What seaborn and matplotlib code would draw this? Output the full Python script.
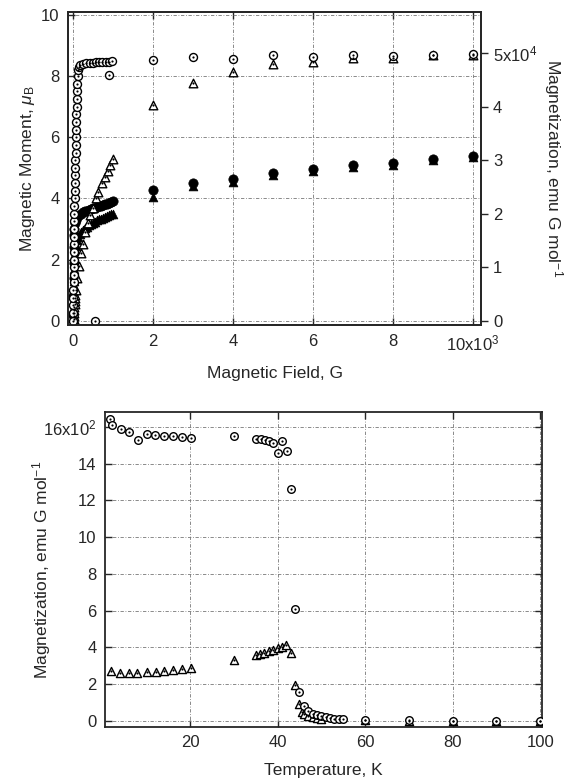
import numpy as np
import pandas as pd
import matplotlib
matplotlib.use('Agg')
import matplotlib.pyplot as plt
import seaborn as sns

# ---- data: field dependence (field in G, moment in uB) ----
circ_open_H = [0, 2, 4, 6, 8, 10, 12, 14, 16, 18, 20, 22, 25, 28, 30, 33, 36, 40, 44, 48,
               52, 56, 60, 64, 68, 72, 76, 80, 85, 90, 95, 100, 110, 120, 140, 175,
               250, 330, 410, 490, 570, 650, 730, 810, 890, 970, 900, 550,
               2000, 3000, 4000, 5000, 6000, 7000, 8000, 9000, 10000]
circ_open_M = [0.0, 0.25, 0.5, 0.75, 1.0, 1.25, 1.5, 1.75, 2.0, 2.25, 2.5, 2.75, 3.0, 3.25, 3.5,
               3.75, 4.0, 4.25, 4.5, 4.75, 5.0, 5.25, 5.5, 5.75, 6.0, 6.25, 6.5, 6.75, 7.0,
               7.25, 7.5, 7.75, 8.0, 8.2, 8.3, 8.38, 8.4, 8.42, 8.43, 8.44, 8.45, 8.46,
               8.46, 8.47, 8.47, 8.48, 8.05, 0.0,
               8.52, 8.62, 8.57, 8.7, 8.63, 8.68, 8.65, 8.68, 8.72]

tri_open_H = [10, 15, 20, 25, 30, 35, 40, 45, 50, 60, 100, 150, 200, 250, 300, 380, 420, 500, 580,
              620, 720, 800, 870, 930, 990,
              2000, 3000, 4000, 5000, 6000, 7000, 8000, 9000, 10000]
tri_open_M = [0.05, 0.15, 0.25, 0.35, 0.45, 0.55, 0.65, 0.75, 0.85, 1.0, 1.4, 1.8, 2.2, 2.5, 2.9,
              3.2, 3.45, 3.7, 4.0, 4.2, 4.5, 4.7, 4.9, 5.1, 5.3,
              7.05, 7.78, 8.12, 8.39, 8.47, 8.6, 8.58, 8.69, 8.7]

circ_fill_H = [0, 5, 10, 15, 20, 25, 30, 40, 60, 80, 100, 150, 200, 250, 300, 350, 400, 450, 500,
               550, 600, 650, 700, 750, 800, 850, 900, 950, 1000,
               2000, 3000, 4000, 5000, 6000, 7000, 8000, 9000, 10000]
circ_fill_M = [0.2, 0.8, 1.4, 1.9, 2.4, 2.8, 3.0, 3.2, 3.3, 3.35, 3.4, 3.45, 3.5, 3.55, 3.58, 3.6,
               3.63, 3.66, 3.68, 3.7, 3.72, 3.74, 3.76, 3.78, 3.8, 3.82, 3.85, 3.87, 3.9,
               4.26, 4.5, 4.62, 4.83, 4.97, 5.08, 5.16, 5.28, 5.38]

tri_fill_H = [0, 10, 20, 30, 40, 50, 70, 100, 130, 160, 200, 250, 300, 350, 400, 450, 500, 550,
              600, 650, 700, 750, 800, 850, 900, 950, 1000,
              2000, 3000, 4000, 5000, 6000, 7000, 8000, 9000, 10000]
tri_fill_M = [0.3, 0.8, 1.3, 1.7, 2.0, 2.2, 2.45, 2.65, 2.75, 2.85, 2.9, 2.97, 3.03, 3.08, 3.12,
              3.16, 3.2, 3.24, 3.28, 3.31, 3.34, 3.37, 3.4, 3.43, 3.46, 3.48, 3.5,
              4.04, 4.4, 4.55, 4.77, 4.88, 5.03, 5.1, 5.25, 5.35]

# ---- data: temperature dependence (M in units of 10^2 emu G/mol) ----
temp_circ = [1.8, 2.1, 4.2, 6.1, 8.2, 10.2, 12.1, 14.1, 16.1, 18.2, 20.2, 30.0,
             35.1, 36.2, 37.1, 38.0, 39.0, 40.2, 41.1, 42.2, 43.0, 44.0, 45.0,
             46, 47, 48, 49, 50, 51, 52, 53, 54, 55, 60, 70, 80, 90, 100]
mag_circ = [16.4, 16.1, 15.85, 15.7, 15.3, 15.6, 15.55, 15.5, 15.5, 15.45, 15.4, 15.5,
            15.35, 15.35, 15.3, 15.2, 15.1, 14.55, 15.2, 14.7, 12.6, 6.1, 1.55,
            0.8, 0.55, 0.4, 0.3, 0.25, 0.2, 0.15, 0.12, 0.1, 0.1, 0.05, 0.03, 0.02, 0.02, 0.02]

temp_tri = [2.0, 4.0, 6.1, 8.0, 10.1, 12.2, 14.1, 16.2, 18.1, 20.2, 30.0,
            35, 36, 37, 38, 39, 40, 41, 42, 43, 44, 44.8, 45.5, 46, 47, 48, 49, 50,
            60, 70, 80, 90, 100]
mag_tri = [2.7, 2.63, 2.6, 2.63, 2.65, 2.65, 2.72, 2.78, 2.82, 2.87, 3.32,
           3.6, 3.65, 3.72, 3.8, 3.88, 3.95, 4.02, 4.15, 3.7, 1.96, 0.9, 0.5, 0.4, 0.28,
           0.2, 0.15, 0.12, 0.03, 0.02, 0.02, 0.02, 0.02]

MU_B_TO_EMU = 5712.0

sns.set_style('ticks')
plt.rcParams['font.family'] = ['Liberation Sans', 'DejaVu Sans']
plt.rcParams['mathtext.fontset'] = 'custom'
plt.rcParams['mathtext.rm'] = 'Liberation Sans'
plt.rcParams['mathtext.it'] = 'Liberation Sans:italic'
plt.rcParams['axes.linewidth'] = 1.3

fig = plt.figure(figsize=(5.66, 7.78), dpi=100)
ax1 = fig.add_axes([0.120, 0.582, 0.730, 0.4026])
ax2 = fig.add_axes([0.1855, 0.0656, 0.7721, 0.4048])

grid_kw = dict(color='#777777', linestyle=(0, (4, 2, 1, 2)), linewidth=0.6)
TICK_FS = 12
LABEL_FS = 12.5


def dotted(ax, x, y, marker, s):
    d = pd.DataFrame({'x': x, 'y': y})
    sns.scatterplot(data=d, x='x', y='y', ax=ax, marker=marker, s=s,
                    facecolor='white', edgecolor='black', linewidth=1.0, zorder=3)
    sns.scatterplot(data=d, x='x', y='y', ax=ax, marker='o', s=2.5,
                    color='black', linewidth=0, zorder=4)


def filled(ax, x, y, marker, s):
    d = pd.DataFrame({'x': x, 'y': y})
    sns.scatterplot(data=d, x='x', y='y', ax=ax, marker=marker, s=s,
                    color='black', edgecolor='black', linewidth=0.5, zorder=3)


# top panel
filled(ax1, tri_fill_H, tri_fill_M, '^', 40)
filled(ax1, circ_fill_H, circ_fill_M, 'o', 45)
dotted(ax1, tri_open_H, tri_open_M, '^', 38)
dotted(ax1, circ_open_H, circ_open_M, 'o', 33)

ax1.set_xlim(-130, 10200)
ax1.set_ylim(-0.15, 10.1)
ax1.set_xticks(np.arange(0, 10001, 2000))
ax1.set_xticklabels(['0', '2', '4', '6', '8', r'10x10$^3$'])
ax1.set_yticks(np.arange(0, 11, 2))
ax1.grid(True, **grid_kw)
ax1.tick_params(direction='in', top=True, length=5, width=1.0, labelsize=TICK_FS, pad=6)
ax1.set_xlabel('Magnetic Field, G', fontsize=LABEL_FS, labelpad=9)
ax1.set_ylabel(r'Magnetic Moment, $\mu_{\mathrm{B}}$', fontsize=LABEL_FS)
ax1.yaxis.set_label_coords(-0.075, 0.5)

ax1r = ax1.twinx()
ax1r.set_ylim(-0.15 * MU_B_TO_EMU, 10.1 * MU_B_TO_EMU)
ax1r.set_yticks(np.arange(0, 50001, 10000))
ax1r.set_yticklabels(['0', '1', '2', '3', '4', r'5x10$^4$'])
ax1r.tick_params(direction='out', length=5, width=1.0, labelsize=TICK_FS)
ax1r.set_ylabel(r'Magnetization, emu G mol$^{-1}$', fontsize=LABEL_FS, rotation=270, labelpad=20)

# bottom panel
dotted(ax2, temp_tri, mag_tri, '^', 34)
dotted(ax2, temp_circ, mag_circ, 'o', 30)

ax2.set_xlim(0.6, 100.4)
ax2.set_ylim(-0.33, 16.8)
ax2.set_xticks(np.arange(20, 101, 20))
ax2.set_yticks(np.arange(0, 17, 2))
ax2.set_yticklabels([str(v) for v in range(0, 16, 2)] + [r'16x10$^2$'])
ax2.grid(True, **grid_kw)
ax2.tick_params(direction='in', top=True, right=True, length=5, width=1.0, labelsize=TICK_FS, pad=6)
ax2.set_xlabel('Temperature, K', fontsize=LABEL_FS, labelpad=9)
ax2.set_ylabel(r'Magnetization, emu G mol$^{-1}$', fontsize=LABEL_FS)
ax2.yaxis.set_label_coords(-0.12, 0.5)

fig.savefig('out.png', dpi=100)
